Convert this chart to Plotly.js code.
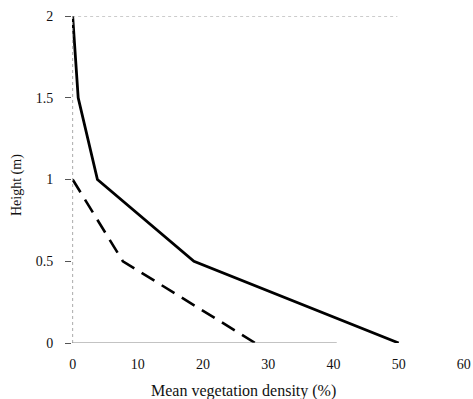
<!DOCTYPE html>
<html>
<head>
<meta charset="utf-8">
<script src="https://cdn.plot.ly/plotly-3.0.1.min.js"></script>
<style>html,body{margin:0;padding:0;background:#fff;}#chart{width:473px;height:399px;}</style>
</head>
<body>
<div id="chart"></div>
<script>
const heights = [2, 1.5, 1, 0.5, 0];
const solidDensity = [0, 0.85, 3.8, 18.6, 50];
const dashedHeights = [1, 0.5, 0];
const dashedDensity = [0, 7.7, 28];
const xTicks = [0, 10, 20, 30, 40, 50, 60];
const yTicks = [0, 0.5, 1, 1.5, 2];
const yTickLabels = ['0', '0.5', '1', '1.5', '2'];
const xTitle = 'Mean vegetation density (%)';
const yTitle = 'Height (m)';

const fam = '"Liberation Serif", "Times New Roman", Times, serif';
const tickFont = {family: fam, size: 14, color: '#111'};

const traces = [
  {x: solidDensity, y: heights, mode: 'lines', line: {color: '#000', width: 2.8}, hoverinfo: 'skip'},
  {x: dashedDensity, y: dashedHeights, mode: 'lines', line: {color: '#000', width: 2.6, dash: '15px,8.6px'}, hoverinfo: 'skip'}
];

const layout = {
  width: 473, height: 399,
  margin: {l: 72, r: 0, t: 16, b: 56},
  paper_bgcolor: '#fff', plot_bgcolor: '#fff',
  showlegend: false,
  font: tickFont,
  xaxis: {
    range: [-0.1, 61.4], tickvals: xTicks, ticktext: xTicks.map(String),
    showgrid: false, zeroline: false, showline: false, ticks: '',
    ticklabelstandoff: 11, tickfont: tickFont
  },
  yaxis: {
    range: [0, 2], tickvals: yTicks, ticktext: yTickLabels,
    showgrid: false, zeroline: false, showline: false,
    ticks: 'outside', ticklen: 6, tickcolor: '#555', tickwidth: 1,
    ticklabelstandoff: 9, tickfont: tickFont
  },
  annotations: [
    {text: xTitle, xref: 'paper', yref: 'paper', x: (243 - 72) / 401, y: -(391 - 343) / 327,
     xanchor: 'center', yanchor: 'middle', showarrow: false, font: {family: fam, size: 16, color: '#111'}},
    {text: yTitle, xref: 'paper', yref: 'paper', x: (17 - 72) / 401, y: (343 - 185) / 327,
     xanchor: 'center', yanchor: 'middle', textangle: -90, showarrow: false, font: {family: fam, size: 14, color: '#111'}}
  ],
  shapes: [
    {type: 'line', xref: 'x', yref: 'y', x0: 0, x1: 0, y0: 0, y1: 2, line: {color: '#aaa', width: 1, dash: 'dot'}},
    {type: 'line', xref: 'x', yref: 'y', x0: -1, x1: 49.8, y0: 2, y1: 2, line: {color: '#999', width: 1.2, dash: 'dot'}},
    {type: 'line', xref: 'x', yref: 'y', x0: -1, x1: 40.5, y0: 0, y1: 0, line: {color: '#888', width: 1.2}}
  ]
};

Plotly.newPlot('chart', traces, layout, {staticPlot: true, displayModeBar: false});
</script>
</body>
</html>
